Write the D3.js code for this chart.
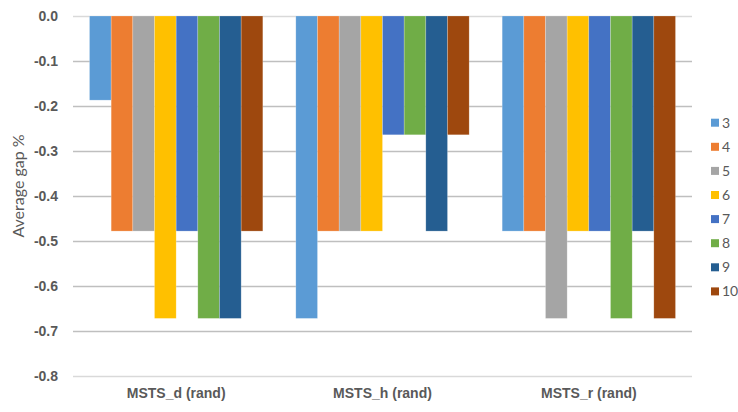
<!DOCTYPE html>
<html>
<head>
<meta charset="utf-8">
<script src="https://cdn.jsdelivr.net/npm/d3@7"></script>
<style>
  html, body { margin: 0; padding: 0; background: #fff; }
  svg { display: block; font-family: Lato, "Open Sans", "Liberation Sans", sans-serif; }
</style>
</head>
<body>
<svg id="chart" width="738" height="412"></svg>
<script>
// Groups on the x axis and the series shown inside each group
const categories = ["MSTS_d (rand)", "MSTS_h (rand)", "MSTS_r (rand)"];
const seriesNames = ["3", "4", "5", "6", "7", "8", "9", "10"];
const seriesColors = ["#5B9BD5", "#ED7D31", "#A5A5A5", "#FFC000", "#4472C4", "#70AD47", "#255E91", "#9E480E"];

// Average gap % per series, one entry per category
const s3  = [-0.187, -0.672, -0.478];
const s4  = [-0.478, -0.478, -0.478];
const s5  = [-0.478, -0.478, -0.672];
const s6  = [-0.672, -0.478, -0.478];
const s7  = [-0.478, -0.264, -0.478];
const s8  = [-0.672, -0.264, -0.672];
const s9  = [-0.672, -0.478, -0.478];
const s10 = [-0.478, -0.264, -0.672];
const seriesValues = [s3, s4, s5, s6, s7, s8, s9, s10];

const yTicks = [0, -0.1, -0.2, -0.3, -0.4, -0.5, -0.6, -0.7, -0.8];
const yTitle = "Average gap %";

const svg = d3.select("#chart");
const plot = { left: 73, right: 692, top: 16, bottom: 376 };

const y = d3.scaleLinear().domain([0, -0.8]).range([plot.top, plot.bottom]);
const x0 = d3.scaleBand().domain(categories).range([plot.left, plot.right]).paddingInner(0).paddingOuter(0);
const groupGap = 33;
const x1 = d3.scaleBand().domain(seriesNames)
  .range([groupGap / 2, x0.bandwidth() - groupGap / 2]).padding(0);

// Gridlines
svg.append("g").selectAll("line").data(yTicks).join("line")
  .attr("x1", plot.left).attr("x2", plot.right)
  .attr("y1", d => Math.round(y(d)) + 0.5).attr("y2", d => Math.round(y(d)) + 0.5)
  .attr("stroke", d => (d === 0 || d === -0.8) ? "#D9D9D9" : "#BFBFBF")
  .attr("stroke-width", 1.5);

// Bars
const groups = svg.append("g").selectAll("g").data(categories).join("g")
  .attr("transform", d => `translate(${x0(d)},0)`);

groups.selectAll("rect")
  .data((c, ci) => seriesNames.map((s, si) => ({ s, si, v: seriesValues[si][ci] })))
  .join("rect")
  .attr("x", d => x1(d.s))
  .attr("width", x1.bandwidth())
  .attr("y", d => y(0))
  .attr("height", d => y(d.v) - y(0))
  .attr("fill", d => seriesColors[d.si])
  .attr("stroke", "#ffffff")
  .attr("stroke-opacity", 0.35)
  .attr("stroke-width", 0.6);

// Y axis tick labels
const yAxis = d3.axisLeft(y).tickValues(yTicks).tickFormat(d3.format(".1f")).tickSize(0).tickPadding(0);
const yg = svg.append("g").attr("transform", `translate(58,0)`).call(yAxis);
yg.select(".domain").remove();
yg.selectAll("text")
  .attr("fill", "#595959").attr("font-size", 14).attr("font-weight", "bold")
  .text(d => d === 0 ? "0.0" : d3.format(".1f")(d).replace("−", "-"));

// Y axis title
svg.append("text")
  .attr("transform", `translate(24,186) rotate(-90)`)
  .attr("text-anchor", "middle")
  .attr("fill", "#595959").attr("font-size", 16)
  .text(yTitle);

// Category labels
const xAxis = d3.axisBottom(x0).tickSize(0).tickPadding(0);
const xg = svg.append("g").attr("transform", `translate(0,388)`).call(xAxis);
xg.select(".domain").remove();
xg.selectAll("text")
  .attr("fill", "#595959").attr("font-size", 14).attr("font-weight", "bold")
  .attr("dy", "0.71em");

// Legend
const legend = svg.append("g").selectAll("g").data(seriesNames).join("g")
  .attr("transform", (d, i) => `translate(711,${122.7 + i * 24.1})`);
legend.append("rect")
  .attr("x", 0).attr("y", -4).attr("width", 8).attr("height", 8)
  .attr("fill", (d, i) => seriesColors[i]);
legend.append("text")
  .attr("x", 11).attr("y", 0).attr("dy", "0.35em")
  .attr("fill", "#595959").attr("font-size", 14)
  .text(d => d);
</script>
</body>
</html>
